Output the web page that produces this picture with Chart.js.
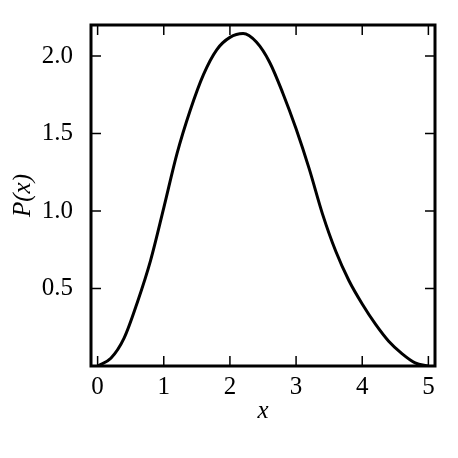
<!DOCTYPE html>
<html>
<head>
<meta charset="utf-8">
<script src="https://cdn.jsdelivr.net/npm/chart.js@4/dist/chart.umd.min.js"></script>
<style>
  html, body { margin: 0; padding: 0; background: #fff; }
  #wrap { width: 458px; height: 458px; }
</style>
</head>
<body>
<div id="wrap"><canvas id="c" width="458" height="458"></canvas></div>
<script>
'use strict';

// data
const xs = [0, 0.2, 0.4, 0.6, 0.8, 1.0, 1.2, 1.4, 1.6, 1.8, 2.0, 2.2, 2.4,
            2.6, 2.8, 3.0, 3.2, 3.4, 3.6, 3.8, 4.0, 4.2, 4.4, 4.6, 4.8, 5.0];
const px = [0, 0.05, 0.18, 0.41, 0.68, 1.02, 1.37, 1.65, 1.88, 2.04, 2.12, 2.145, 2.09,
            1.96, 1.76, 1.53, 1.27, 0.98, 0.74, 0.55, 0.40, 0.27, 0.16, 0.08, 0.02, 0];
const xTicks = [0, 1, 2, 3, 4, 5];
const yTicks = [0.5, 1.0, 1.5, 2.0];

const serif = '"Liberation Serif", "DejaVu Serif", serif';

// matplotlib-like frame with inward ticks on all four sides
const frameTicks = {
  id: 'frameTicks',
  afterDatasetsDraw(chart) {
    const {ctx, chartArea: a, scales} = chart;
    const len = 10;
    ctx.save();
    ctx.strokeStyle = '#000';
    ctx.lineWidth = 1.5;
    ctx.beginPath();
    for (const v of xTicks) {
      const p = scales.x.getPixelForValue(v);
      ctx.moveTo(p, a.bottom); ctx.lineTo(p, a.bottom - len);
      ctx.moveTo(p, a.top); ctx.lineTo(p, a.top + len);
    }
    for (const v of yTicks) {
      const p = scales.y.getPixelForValue(v);
      ctx.moveTo(a.left, p); ctx.lineTo(a.left + len, p);
      ctx.moveTo(a.right, p); ctx.lineTo(a.right - len, p);
    }
    ctx.stroke();
    ctx.lineWidth = 3;
    ctx.strokeRect(a.left, a.top, a.right - a.left, a.bottom - a.top);
    ctx.restore();
  }
};

new Chart(document.getElementById('c'), {
  type: 'line',
  data: {
    datasets: [{
      data: xs.map((x, i) => ({x: x, y: px[i]})),
      borderColor: '#000',
      borderWidth: 3,
      pointRadius: 0,
      cubicInterpolationMode: 'monotone',
      fill: false
    }]
  },
  options: {
    responsive: false,
    animation: false,
    layout: {padding: {top: 20, right: 23, left: 0, bottom: 32}},
    plugins: {legend: {display: false}, tooltip: {enabled: false}},
    scales: {
      x: {
        type: 'linear',
        min: -0.1,
        max: 5.1,
        afterBuildTicks: (s) => { s.ticks = xTicks.map(v => ({value: v})); },
        afterFit: (s) => { s.height = 60; },
        grid: {display: false},
        border: {display: false},
        ticks: {
          color: '#000',
          padding: -2,
          maxRotation: 0,
          font: {family: serif, size: 25},
          callback: (v) => String(v)
        },
        title: {
          display: true,
          text: 'x',
          color: '#000',
          padding: {top: 0, bottom: 0},
          font: {family: serif, size: 25, style: 'italic'}
        }
      },
      y: {
        type: 'linear',
        min: 0,
        max: 2.2,
        afterBuildTicks: (s) => { s.ticks = yTicks.map(v => ({value: v})); },
        afterFit: (s) => { s.width = 91; },
        grid: {display: false},
        border: {display: false},
        ticks: {
          color: '#000',
          padding: 10,
          font: {family: serif, size: 25},
          callback: (v) => v.toFixed(1)
        },
        title: {
          display: true,
          text: 'P(x)',
          color: '#000',
          padding: {top: 8, bottom: 0},
          font: {family: serif, size: 25, style: 'italic'}
        }
      }
    }
  },
  plugins: [frameTicks]
});
</script>
</body>
</html>
